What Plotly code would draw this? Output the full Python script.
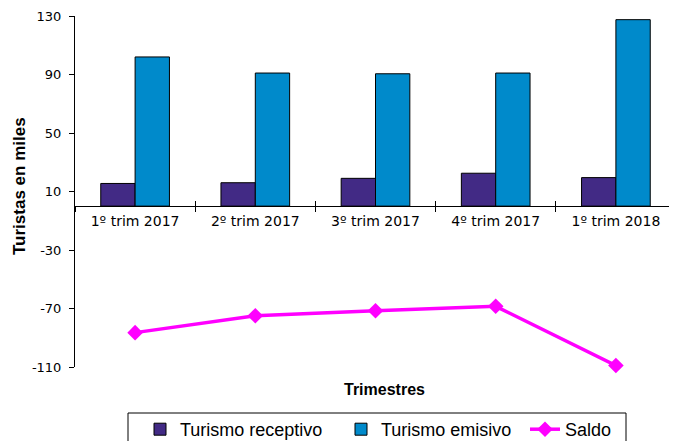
import plotly.graph_objects as go

categories = ["1º trim 2017", "2º trim 2017", "3º trim 2017", "4º trim 2017", "1º trim 2018"]
receptivo = [15.5, 16, 19, 22.5, 19.5]
emisivo = [102, 91, 90.5, 91, 127.5]
saldo = [-86.5, -75, -71.5, -68.5, -109]
y_ticks = [-110, -70, -30, 10, 50, 90, 130]
y_ticktext = ["-110", "-70", "-30", "10", "50", "90", "130"]

# page body has an 8px default margin
OFF = 8
W, H = 677 - OFF, 441 - OFF
PL, PR, PT, PB = 75, 676, 16, 367   # plot area in page pixels
L, T = PL - OFF, PT - OFF
R = W - (PR - OFF)
B = H - (PB - OFF)
pw, ph = PR - PL, PB - PT

def px_x(p):
    return (p - PL) / pw

def px_y(p):
    return (PB - p) / ph

fig = go.Figure()
fig.add_trace(go.Bar(x=categories, y=receptivo, name="Turismo receptivo", legendwidth=156,
                     marker=dict(color="#422A85", line=dict(color="black", width=1))))
fig.add_trace(go.Bar(x=categories, y=emisivo, name="Turismo emisivo", legendwidth=139,
                     marker=dict(color="#008ACB", line=dict(color="black", width=1))))
fig.add_trace(go.Scatter(x=categories, y=saldo, name="Saldo", mode="lines+markers",
                         xaxis="x2", cliponaxis=False,
                         line=dict(color="#FF00FF", width=3.5),
                         marker=dict(symbol="diamond", size=12, color="#FF00FF")))

ymin, ymax = y_ticks[0], y_ticks[-1]
zero_pos = (0 - ymin) / (ymax - ymin)

fig.update_layout(
    width=W, height=H,
    margin=dict(l=L, r=R, t=T, b=B, autoexpand=False),
    paper_bgcolor="white", plot_bgcolor="white",
    barmode="group", bargap=1.5 / 3.5, bargroupgap=0,
    font=dict(family="DejaVu Sans", color="black"),
    xaxis=dict(type="category", anchor="free", position=zero_pos,
               showline=True, linecolor="black", linewidth=1,
               ticks="outside", ticklen=5, tickcolor="black", tickson="boundaries",
               showgrid=False, tickfont=dict(family="DejaVu Sans", size=14, color="black"),
               ticklabelstandoff=2),
    xaxis2=dict(type="category", anchor="free", position=zero_pos, overlaying="x", matches="x",
                showline=False, ticks="inside", ticklen=5, tickcolor="black",
                tickson="boundaries", showticklabels=False, showgrid=False),
    yaxis=dict(range=[ymin, ymax], tickvals=y_ticks, ticktext=y_ticktext,
               showline=True, linecolor="black",
               linewidth=1, ticks="outside", ticklen=5, tickcolor="black",
               showgrid=False, zeroline=False,
               tickfont=dict(family="DejaVu Sans", size=13, color="black"),
               ticklabelstandoff=5),
    legend=dict(orientation="h", x=px_x(140), xanchor="left", y=px_y(411), yanchor="top",
                borderwidth=0, bgcolor="rgba(0,0,0,0)",
                font=dict(family="Liberation Sans", size=18, color="black")),
    showlegend=True,
)

# legend frame
fig.add_shape(type="rect", xref="paper", yref="paper",
              x0=px_x(128), x1=px_x(626), y0=px_y(460), y1=px_y(413),
              line=dict(color="black", width=1), fillcolor="rgba(0,0,0,0)", layer="below")

fig.add_annotation(text="<b>Turistas en miles</b>", xref="paper", yref="paper",
                   x=px_x(19), y=px_y(186), xanchor="center", yanchor="middle",
                   textangle=-90, showarrow=False,
                   font=dict(family="Liberation Sans", size=17, color="black"))
fig.add_annotation(text="<b>Trimestres</b>", xref="paper", yref="paper",
                   x=px_x(384), y=px_y(389), xanchor="center", yanchor="middle",
                   showarrow=False,
                   font=dict(family="Liberation Sans", size=16, color="black"))

fig.write_html("out.html")
